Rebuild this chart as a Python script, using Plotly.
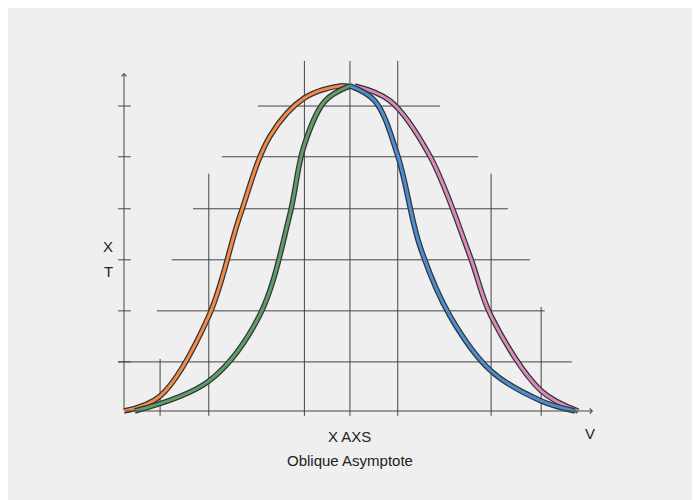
import plotly.graph_objects as go

# curve data in chart units (x: 0..10, y: 0..10)
orange_x = [0, 0.8, 1.88, 2.57, 3.24, 4.0, 4.79, 5.01]
orange_y = [0, 0.46, 2.92, 6.0, 8.46, 9.63, 10, 9.97]
green_x = [0.24, 1.88, 3.0, 3.67, 3.99, 4.46, 5.01]
green_y = [0, 0.92, 2.92, 6.0, 8.15, 9.54, 10]
blue_x = [5.01, 5.56, 6.07, 6.56, 7.23, 8.14, 9.25, 10]
blue_y = [10, 9.54, 7.85, 5.08, 2.92, 1.23, 0.31, 0]
pink_x = [5.12, 5.9, 6.78, 7.67, 8.14, 9.25, 10.07]
pink_y = [10, 9.54, 7.85, 4.77, 2.92, 0.62, 0]

hgrid_y = [1.51, 3.08, 4.65, 6.22, 7.82, 9.38]
hgrid_x0 = [-0.13, 0.73, 1.06, 1.53, 2.17, 2.97]
hgrid_x1 = [9.93, 9.33, 9.0, 8.51, 7.85, 7.01]
vgrid_x = [0.8, 1.88, 4.0, 5.01, 6.07, 8.14, 9.25]
vgrid_top = [1.6, 7.3, 10.77, 10.77, 10.77, 7.3, 3.2]

fig = go.Figure()
for xs, ys, col in [(orange_x, orange_y, "#f28a4a"), (green_x, green_y, "#5d9e68"),
                    (pink_x, pink_y, "#d98ab8"), (blue_x, blue_y, "#4a8fd4")]:
    fig.add_trace(go.Scatter(x=xs, y=ys, mode="lines", line=dict(color="#333333", width=5.5, shape="spline"),
                             showlegend=False, hoverinfo="skip"))
    fig.add_trace(go.Scatter(x=xs, y=ys, mode="lines", line=dict(color=col, width=3, shape="spline"),
                             showlegend=False))

grid = dict(type="line", line=dict(color="#444444", width=1), layer="below")
for y, a, b in zip(hgrid_y, hgrid_x0, hgrid_x1):
    fig.add_shape(x0=a, x1=b, y0=y, y1=y, **grid)
    fig.add_shape(x0=-0.13, x1=0.15, y0=y, y1=y, **grid)
for x, t in zip(vgrid_x, vgrid_top):
    fig.add_shape(x0=x, x1=x, y0=-0.15, y1=t, **grid)

# axes with arrows
fig.add_annotation(x=0, y=10.4, ax=0, ay=0, xref="x", yref="y", axref="x", ayref="y",
                   text="", showarrow=True, arrowhead=4, arrowwidth=1, arrowcolor="#444")
fig.add_annotation(x=10.4, y=0, ax=0, ay=0, xref="x", yref="y", axref="x", ayref="y",
                   text="", showarrow=True, arrowhead=4, arrowwidth=1, arrowcolor="#444")

txt = dict(showarrow=False, font=dict(family="Liberation Sans, Arial", size=15, color="#222"))
fig.add_annotation(x=-0.35, y=5.05, text="X", **txt)
fig.add_annotation(x=-0.35, y=4.3, text="T", **txt)
fig.add_annotation(x=5.0, y=-0.78, text="X AXS", **txt)
fig.add_annotation(x=5.0, y=-1.52, text="Oblique Asymptote", **txt)
fig.add_annotation(x=10.33, y=-0.7, text="V", **txt)

fig.update_layout(
    width=700, height=500, margin=dict(l=0, r=0, t=0, b=0),
    paper_bgcolor="#efefef", plot_bgcolor="#efefef",
    xaxis=dict(range=[-2.572, 12.949], visible=False),
    yaxis=dict(range=[-2.984, 12.396], visible=False),
)
fig.write_html("out.html")
